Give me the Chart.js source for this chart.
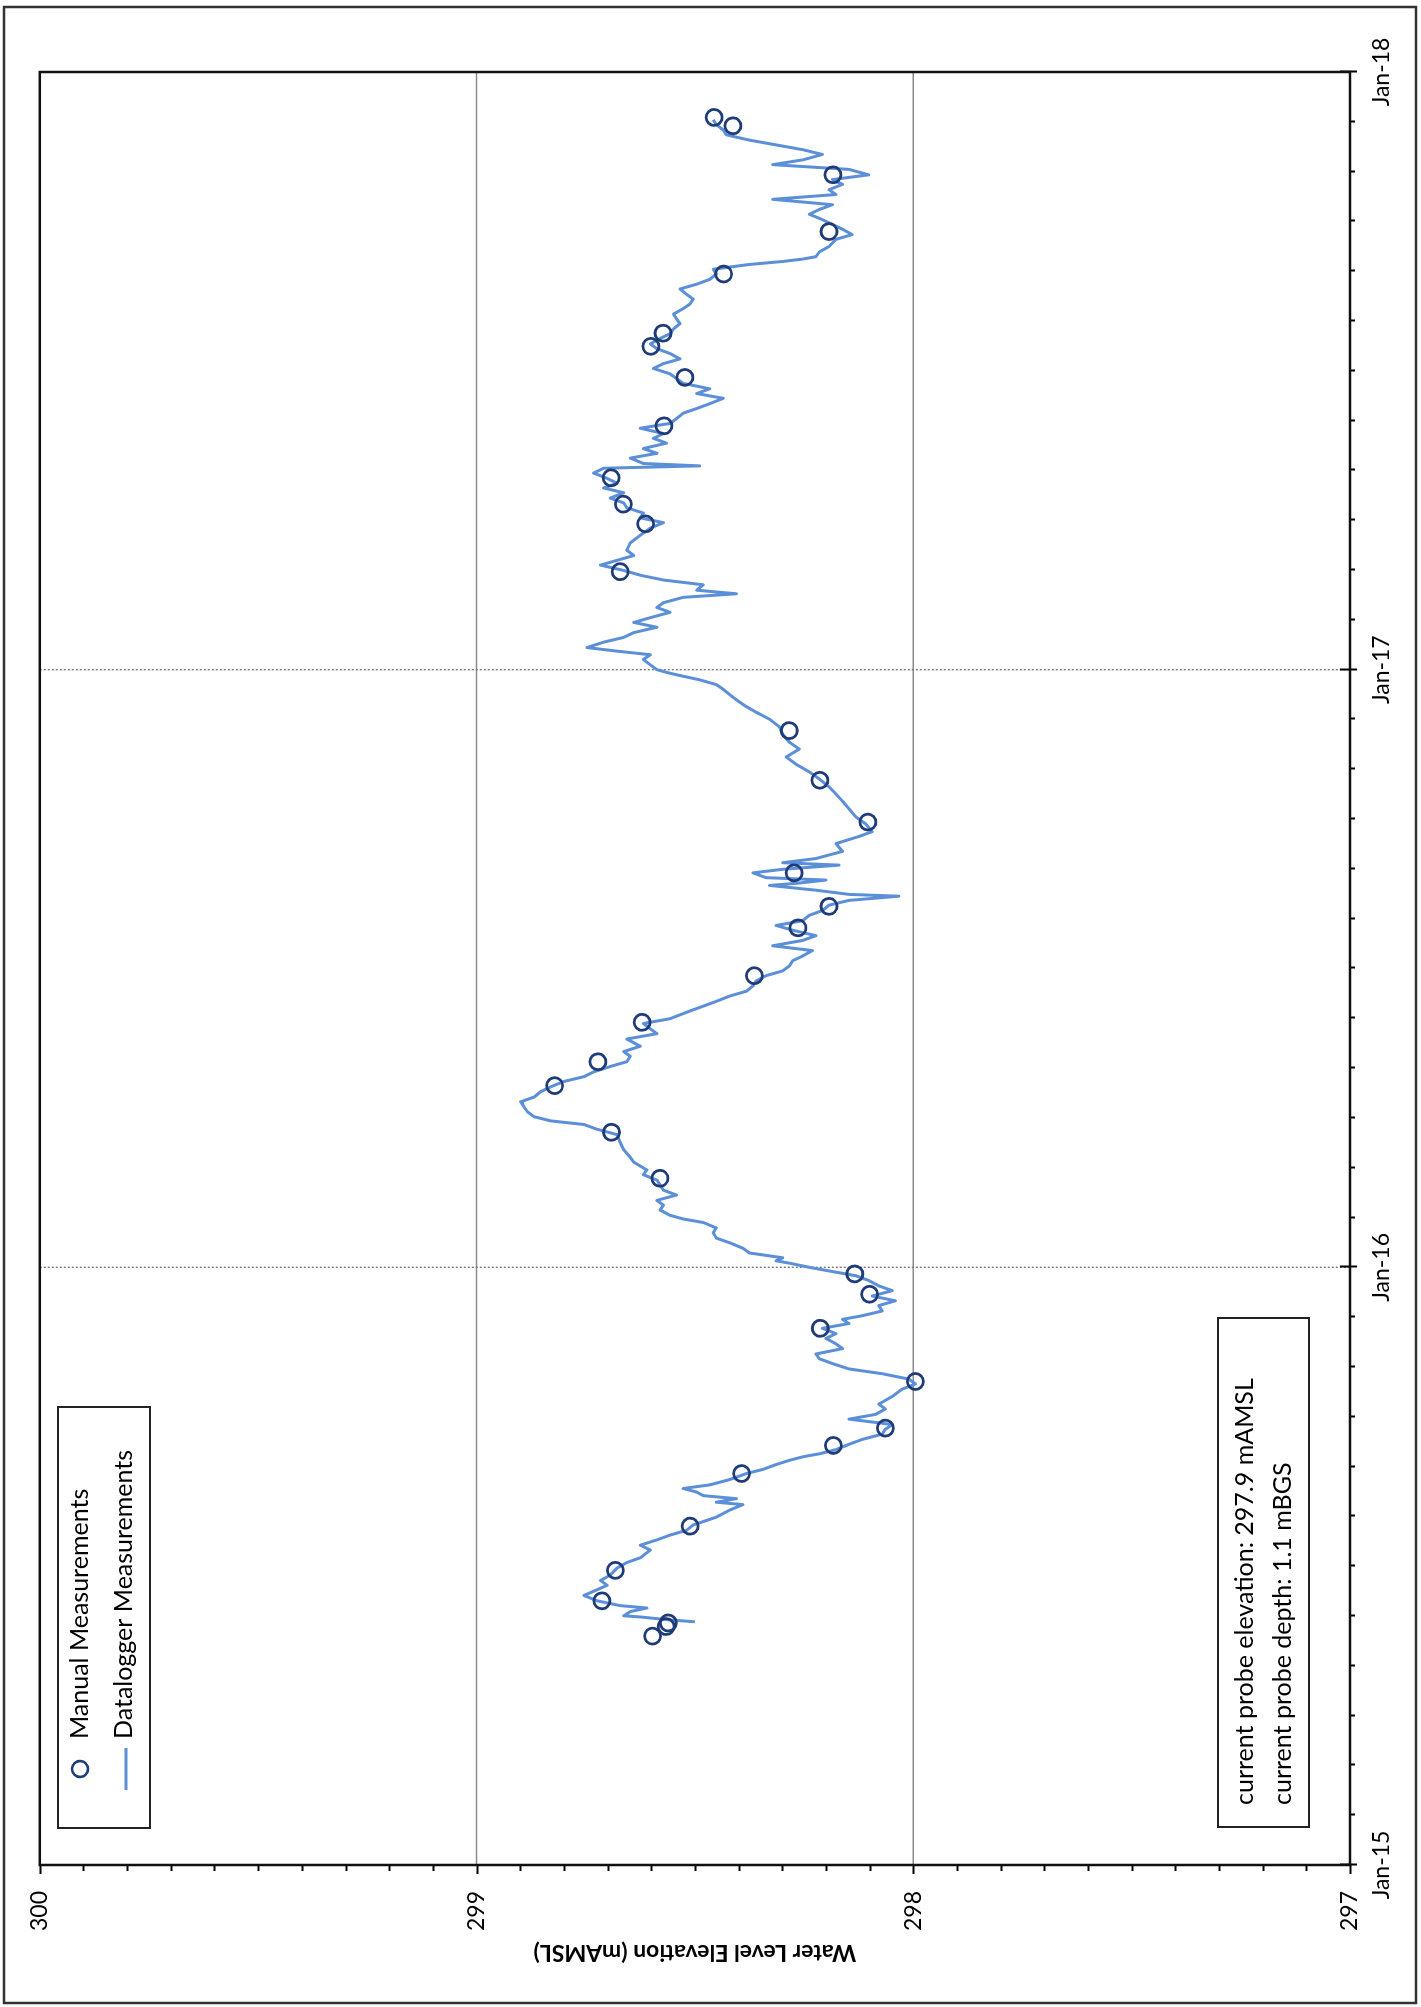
<!DOCTYPE html>
<html>
<head>
<meta charset="utf-8">
<script src="https://cdn.jsdelivr.net/npm/chart.js@4.4.1/dist/chart.umd.min.js"></script>
<style>
  html, body { margin: 0; padding: 0; background: #fff; overflow: hidden; }
  #page { position: absolute; left: 0; top: 0; width: 1421px; height: 2007px; overflow: hidden; background: #fff; }
  /* the hydrograph is laid out landscape, then turned a quarter turn anticlockwise onto the portrait page */
  #turn { position: absolute; left: 0; top: 0; width: 2007px; height: 1421px;
          transform-origin: 0 0; transform: translate(0, 2007px) rotate(-90deg); }
  canvas { display: block; }
</style>
</head>
<body>
<div id="page"><div id="turn"><canvas id="c" width="2007" height="1421"></canvas></div></div>
<script>
// ---- axis ticks ----
const yearTicks  = [2015, 2016, 2017, 2018];
const yearLabels = ['Jan-15', 'Jan-16', 'Jan-17', 'Jan-18'];
const levelTicks = [297, 298, 299, 300];
const levelLabels = ['297', '298', '299', '300'];

// ---- manual dip measurements (decimal year, mAMSL) ----
const manualYear = [
  2015.383, 2015.399, 2015.405, 2015.442, 2015.493, 2015.567, 2015.655, 2015.702, 2015.731, 2015.809,
  2015.898, 2015.955, 2015.989, 2016.149, 2016.226, 2016.304, 2016.344, 2016.410, 2016.488, 2016.568,
  2016.604, 2016.660, 2016.745, 2016.815, 2016.898, 2017.164, 2017.244, 2017.277, 2017.321, 2017.408,
  2017.489, 2017.541, 2017.563, 2017.662, 2017.733, 2017.828, 2017.910, 2017.924
];
const manualLevel = [
  298.597, 298.566, 298.561, 298.713, 298.682, 298.511, 298.393, 298.183, 298.064, 297.995,
  298.213, 298.100, 298.134, 298.580, 298.691, 298.821, 298.722, 298.621, 298.364, 298.264,
  298.193, 298.273, 298.104, 298.214, 298.284, 298.671, 298.613, 298.664, 298.692, 298.571,
  298.523, 298.601, 298.573, 298.434, 298.193, 298.184, 298.413, 298.456
];

// ---- datalogger record (decimal year, mAMSL) ----
const loggerYear = [
  2015.407, 2015.410, 2015.415, 2015.417, 2015.424, 2015.430, 2015.434, 2015.442, 2015.451, 2015.458,
  2015.468, 2015.476, 2015.485, 2015.497, 2015.506, 2015.514, 2015.527, 2015.535, 2015.544, 2015.552,
  2015.560, 2015.569, 2015.582, 2015.594, 2015.603, 2015.607, 2015.613, 2015.618, 2015.624, 2015.630,
  2015.636, 2015.645, 2015.655, 2015.662, 2015.670, 2015.677, 2015.683, 2015.688, 2015.695, 2015.704,
  2015.712, 2015.721, 2015.729, 2015.737, 2015.746, 2015.754, 2015.763, 2015.771, 2015.784, 2015.796,
  2015.805, 2015.813, 2015.822, 2015.830, 2015.839, 2015.847, 2015.855, 2015.864, 2015.872, 2015.881,
  2015.889, 2015.898, 2015.906, 2015.913, 2015.919, 2015.927, 2015.936, 2015.944, 2015.952, 2015.961,
  2015.969, 2015.978, 2015.986, 2015.994, 2016.000, 2016.007, 2016.011, 2016.016, 2016.024, 2016.032,
  2016.041, 2016.049, 2016.058, 2016.066, 2016.075, 2016.081, 2016.087, 2016.096, 2016.104, 2016.112,
  2016.121, 2016.129, 2016.138, 2016.146, 2016.155, 2016.163, 2016.176, 2016.184, 2016.197, 2016.209,
  2016.222, 2016.231, 2016.239, 2016.245, 2016.252, 2016.260, 2016.268, 2016.277, 2016.285, 2016.294,
  2016.302, 2016.311, 2016.319, 2016.327, 2016.336, 2016.344, 2016.353, 2016.361, 2016.370, 2016.382,
  2016.391, 2016.399, 2016.408, 2016.416, 2016.429, 2016.437, 2016.445, 2016.454, 2016.462, 2016.471,
  2016.479, 2016.488, 2016.496, 2016.504, 2016.513, 2016.521, 2016.530, 2016.538, 2016.547, 2016.555,
  2016.564, 2016.572, 2016.580, 2016.589, 2016.597, 2016.606, 2016.614, 2016.621, 2016.624, 2016.631,
  2016.639, 2016.643, 2016.648, 2016.652, 2016.660, 2016.666, 2016.673, 2016.677, 2016.684, 2016.696,
  2016.709, 2016.721, 2016.729, 2016.742, 2016.754, 2016.767, 2016.780, 2016.792, 2016.804, 2016.817,
  2016.829, 2016.842, 2016.854, 2016.867, 2016.879, 2016.892, 2016.904, 2016.917, 2016.929, 2016.938,
  2016.946, 2016.954, 2016.967, 2016.975, 2016.983, 2016.989, 2016.994, 2017.000, 2017.008, 2017.017,
  2017.025, 2017.031, 2017.037, 2017.046, 2017.054, 2017.062, 2017.071, 2017.079, 2017.087, 2017.096,
  2017.104, 2017.112, 2017.121, 2017.127, 2017.133, 2017.142, 2017.150, 2017.158, 2017.166, 2017.175,
  2017.183, 2017.191, 2017.200, 2017.212, 2017.225, 2017.237, 2017.246, 2017.254, 2017.262, 2017.271,
  2017.279, 2017.287, 2017.296, 2017.304, 2017.312, 2017.320, 2017.329, 2017.337, 2017.341, 2017.345,
  2017.354, 2017.362, 2017.370, 2017.379, 2017.387, 2017.395, 2017.404, 2017.412, 2017.420, 2017.429,
  2017.437, 2017.445, 2017.454, 2017.462, 2017.470, 2017.479, 2017.487, 2017.495, 2017.504, 2017.512,
  2017.520, 2017.529, 2017.537, 2017.545, 2017.554, 2017.562, 2017.570, 2017.579, 2017.587, 2017.595,
  2017.604, 2017.612, 2017.620, 2017.628, 2017.637, 2017.645, 2017.653, 2017.662, 2017.670, 2017.678,
  2017.683, 2017.687, 2017.691, 2017.699, 2017.708, 2017.720, 2017.728, 2017.737, 2017.745, 2017.753,
  2017.762, 2017.770, 2017.778, 2017.787, 2017.795, 2017.803, 2017.812, 2017.820, 2017.828, 2017.837,
  2017.845, 2017.853, 2017.862, 2017.870, 2017.878, 2017.886, 2017.891, 2017.895, 2017.903, 2017.912,
  2017.920
];
const loggerLevel = [
  298.500, 298.557, 298.625, 298.663, 298.648, 298.610, 298.671, 298.724, 298.754, 298.732,
  298.701, 298.716, 298.694, 298.678, 298.656, 298.625, 298.602, 298.625, 298.587, 298.557,
  298.519, 298.504, 298.451, 298.420, 298.390, 298.451, 298.405, 298.481, 298.496, 298.527,
  298.466, 298.420, 298.382, 298.344, 298.314, 298.284, 298.253, 298.215, 298.177, 298.147,
  298.117, 298.071, 298.064, 298.048, 298.147, 298.086, 298.064, 298.079, 298.048, 298.026,
  297.995, 298.010, 298.071, 298.147, 298.185, 298.215, 298.223, 298.162, 298.177, 298.200,
  298.177, 298.208, 298.147, 298.162, 298.117, 298.071, 298.079, 298.041, 298.094, 298.048,
  298.079, 298.102, 298.132, 298.193, 298.238, 298.284, 298.314, 298.299, 298.375, 298.390,
  298.420, 298.451, 298.458, 298.451, 298.481, 298.527, 298.557, 298.580, 298.572, 298.587,
  298.542, 298.572, 298.580, 298.587, 298.618, 298.610, 298.640, 298.648, 298.663, 298.671,
  298.678, 298.724, 298.754, 298.830, 298.868, 298.883, 298.891, 298.899, 298.868, 298.853,
  298.830, 298.800, 298.754, 298.732, 298.694, 298.656, 298.648, 298.663, 298.625, 298.656,
  298.587, 298.602, 298.618, 298.557, 298.511, 298.481, 298.451, 298.420, 298.382, 298.367,
  298.360, 298.337, 298.299, 298.284, 298.276, 298.253, 298.231, 298.322, 298.253, 298.223,
  298.276, 298.314, 298.253, 298.238, 298.208, 298.193, 298.147, 298.033, 298.147, 298.223,
  298.329, 298.261, 298.200, 298.337, 298.367, 298.299, 298.170, 298.299, 298.223, 298.162,
  298.177, 298.124, 298.094, 298.109, 298.132, 298.147, 298.162, 298.177, 298.193, 298.215,
  298.238, 298.269, 298.291, 298.261, 298.284, 298.299, 298.306, 298.329, 298.360, 298.382,
  298.398, 298.413, 298.435, 298.451, 298.489, 298.527, 298.557, 298.587, 298.602, 298.618,
  298.602, 298.678, 298.747, 298.709, 298.663, 298.640, 298.587, 298.640, 298.602, 298.557,
  298.587, 298.572, 298.527, 298.405, 298.496, 298.481, 298.572, 298.625, 298.663, 298.716,
  298.678, 298.640, 298.656, 298.648, 298.625, 298.602, 298.572, 298.625, 298.618, 298.656,
  298.663, 298.694, 298.663, 298.709, 298.678, 298.701, 298.732, 298.709, 298.489, 298.618,
  298.648, 298.587, 298.618, 298.565, 298.595, 298.572, 298.625, 298.557, 298.542, 298.527,
  298.496, 298.466, 298.435, 298.496, 298.466, 298.527, 298.542, 298.557, 298.595, 298.572,
  298.534, 298.557, 298.587, 298.602, 298.580, 298.557, 298.549, 298.534, 298.542, 298.549,
  298.527, 298.511, 298.504, 298.519, 298.534, 298.496, 298.466, 298.451, 298.458, 298.375,
  298.299, 298.253, 298.223, 298.215, 298.193, 298.177, 298.140, 298.162, 298.185, 298.208,
  298.238, 298.215, 298.185, 298.322, 298.177, 298.193, 298.162, 298.185, 298.102, 298.147,
  298.322, 298.253, 298.208, 298.253, 298.314, 298.375, 298.405, 298.428, 298.435, 298.451,
  298.458
];

// ---- annotation text ----
const seriesNames = ['Manual Measurements', 'Datalogger Measurements'];
const probeNotes = ['current probe elevation: 297.9 mAMSL', 'current probe depth: 1.1 mBGS'];

const FONT = 'Lato, "Open Sans", "DejaVu Sans", sans-serif';
const LINE_BLUE = '#5B8FD8';
const DOT_NAVY = '#1F3C78';

const pairs = (xs, ys) => xs.map((x, i) => ({ x: x, y: ys[i] }));

// grid lines, frames, minor ticks, legend and probe note drawn on the chart canvas
const hydroFrame = {
  id: 'hydroFrame',
  beforeDatasetsDraw(chart) {
    const { ctx, chartArea: a, scales: { x, y } } = chart;
    ctx.save();
    ctx.strokeStyle = '#8c8c8c';
    ctx.lineWidth = 1.6;
    [298, 299].forEach(v => {
      const p = y.getPixelForValue(v);
      ctx.beginPath(); ctx.moveTo(a.left, p); ctx.lineTo(a.right, p); ctx.stroke();
    });
    ctx.setLineDash([2, 2]);
    ctx.lineWidth = 1.4;
    ctx.strokeStyle = '#777';
    [2016, 2017].forEach(v => {
      const p = x.getPixelForValue(v);
      ctx.beginPath(); ctx.moveTo(p, a.top); ctx.lineTo(p, a.bottom); ctx.stroke();
    });
    ctx.restore();
  },
  afterDraw(chart) {
    const { ctx, chartArea: a, scales: { x, y } } = chart;
    ctx.save();
    ctx.strokeStyle = '#000';
    ctx.lineWidth = 2;
    // minor ticks: 0.1 m on the level axis, months on the time axis
    for (let k = 0; k <= 30; k++) {
      const v = 297 + k / 10;
      const p = Math.round(y.getPixelForValue(v)) + 0.5;
      const len = (k % 10 === 0) ? 9 : 6;
      ctx.beginPath(); ctx.moveTo(a.left, p); ctx.lineTo(a.left - len, p); ctx.stroke();
    }
    for (let m = 0; m <= 36; m++) {
      const v = 2015 + m / 12;
      const p = Math.round(x.getPixelForValue(v)) + 0.5;
      ctx.beginPath();
      if (m % 12 === 0) { ctx.moveTo(p, a.bottom - 10); ctx.lineTo(p, a.bottom + 7); }
      else { ctx.moveTo(p, a.bottom); ctx.lineTo(p, a.bottom + 5); }
      ctx.stroke();
    }
    // plot frame
    ctx.lineWidth = 2.5;
    ctx.strokeStyle = '#111';
    ctx.strokeRect(a.left, a.top, a.right - a.left, a.bottom - a.top);
    // outer frame
    ctx.strokeStyle = '#333';
    ctx.lineWidth = 2.5;
    ctx.strokeRect(4, 4, 1996, 1412);

    // legend
    ctx.fillStyle = '#fff';
    ctx.fillRect(179, 58, 421, 92);
    ctx.strokeStyle = '#222';
    ctx.lineWidth = 2;
    ctx.strokeRect(179, 58, 421, 92);
    ctx.strokeStyle = DOT_NAVY;
    ctx.lineWidth = 2.6;
    ctx.beginPath(); ctx.arc(238, 80, 8, 0, Math.PI * 2); ctx.stroke();
    ctx.strokeStyle = LINE_BLUE;
    ctx.lineWidth = 2.8;
    ctx.beginPath(); ctx.moveTo(217, 126); ctx.lineTo(259, 126); ctx.stroke();
    ctx.fillStyle = '#000';
    ctx.font = '25px ' + FONT;
    ctx.textBaseline = 'middle';
    ctx.textAlign = 'left';
    ctx.fillText(seriesNames[0], 268, 80);
    ctx.fillText(seriesNames[1], 268, 124);

    // probe note
    ctx.fillStyle = '#fff';
    ctx.fillRect(180, 1218, 509, 91);
    ctx.strokeStyle = '#222';
    ctx.lineWidth = 2;
    ctx.strokeRect(180, 1218, 509, 91);
    ctx.fillStyle = '#000';
    ctx.font = '25px ' + FONT;
    ctx.fillText(probeNotes[0], 202, 1245);
    ctx.fillText(probeNotes[1], 202, 1283);
    ctx.restore();
  }
};

new Chart(document.getElementById('c'), {
  type: 'scatter',
  data: {
    datasets: [
      {
        label: seriesNames[0],
        data: pairs(manualYear, manualLevel),
        showLine: false,
        pointStyle: 'circle',
        pointRadius: 8,
        pointBorderWidth: 2.8,
        pointBorderColor: DOT_NAVY,
        pointBackgroundColor: 'rgba(0,0,0,0)',
        borderColor: DOT_NAVY,
        backgroundColor: 'rgba(0,0,0,0)'
      },
      {
        label: seriesNames[1],
        data: pairs(loggerYear, loggerLevel),
        showLine: true,
        tension: 0,
        borderColor: LINE_BLUE,
        borderWidth: 3,
        borderJoinStyle: 'round',
        pointRadius: 0,
        fill: false
      }
    ]
  },
  options: {
    responsive: false,
    animation: false,
    events: [],
    layout: { padding: { left: 0, right: 72, top: 33, bottom: 0 } },
    plugins: { legend: { display: false }, tooltip: { enabled: false } },
    scales: {
      x: {
        type: 'linear',
        min: 2015, max: 2018,
        afterBuildTicks: s => { s.ticks = yearTicks.map(v => ({ value: v })); },
        afterFit: s => { s.height = 71; },
        grid: { display: false, drawTicks: false },
        border: { display: false },
        ticks: {
          autoSkip: false, maxRotation: 0, padding: 18, color: '#000',
          font: { family: FONT, size: 23 },
          callback: v => yearLabels[yearTicks.indexOf(v)]
        }
      },
      y: {
        type: 'linear',
        min: 297, max: 300,
        afterBuildTicks: s => { s.ticks = levelTicks.map(v => ({ value: v })); },
        afterFit: s => { s.width = 142; },
        grid: { display: false, drawTicks: false },
        border: { display: false },
        ticks: {
          padding: 26, color: '#000',
          font: { family: FONT, size: 23 },
          callback: v => levelLabels[levelTicks.indexOf(v)]
        },
        title: {
          display: true,
          text: 'Water Level Elevation (mAMSL)',
          color: '#000',
          font: { family: FONT, size: 23, weight: 'bold' },
          padding: { top: 41, bottom: 0 }
        }
      }
    }
  },
  plugins: [hydroFrame]
});
</script>
</body>
</html>
